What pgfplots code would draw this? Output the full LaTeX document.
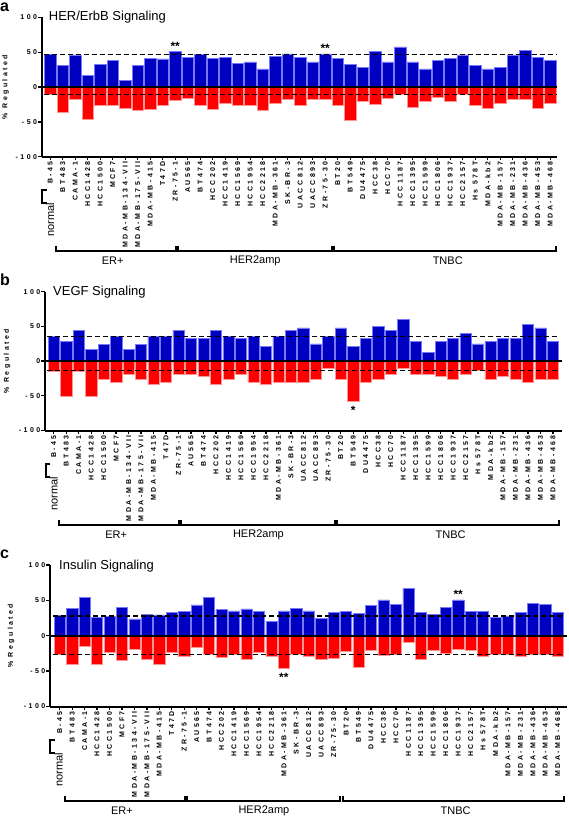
\documentclass[border=0pt]{standalone}
\usepackage{fontspec}
\setmainfont{Liberation Sans}
\newfontfamily\tickfont[LetterSpace=35]{Liberation Sans}
\usepackage{pgfplots}
\pgfplotsset{compat=1.18}
\usepackage{pgfplotstable}

\definecolor{barblue}{RGB}{0,0,192}
\definecolor{barblueedge}{RGB}{120,120,255}
\definecolor{barred}{RGB}{255,0,0}
\definecolor{barrededge}{RGB}{255,150,150}

\newcommand\ticklab{\tickfont\bfseries\fontsize{7}{8}\selectfont}
\newcommand\ylab{\tickfont\bfseries\fontsize{7}{8}\selectfont}
\newcommand\grouplab{\fontsize{11}{12}\selectfont}

% panel a: HER/ErbB
\pgfplotstableread{
i up dn
0 46.5 -11
1 31 -35.7
2 46 -18
3 17 -45.7
4 32 -26.7
5 38.5 -25.7
6 9.5 -31
7 31 -33
8 41 -31.4
9 40.5 -25.7
10 51 -19.5
11 43 -16
12 46.7 -25.7
13 41 -31.4
14 43 -23.3
15 34 -25.7
16 36 -25.7
17 26 -33
18 44 -24
19 47.6 -18
20 43 -25.7
21 36 -18
22 47.6 -18
23 41 -26
24 33 -47.6
25 28.6 -21
26 51 -24.8
27 36 -16
28 57.6 -10
29 36 -28.6
30 26 -21
31 38.6 -14.3
32 41 -21
33 46 -11
34 31 -25.7
35 26 -30.5
36 28.6 -23.3
37 46 -18
38 53 -18
39 43 -30.5
40 38.6 -23.3
}\dataA

% panel b: VEGF
\pgfplotstableread{
i up dn
0 36 -14
1 28.5 -50
2 44.4 -14
3 17 -50
4 24.6 -26
5 36 -30
6 17 -18.4
7 24.6 -26
8 36 -34
9 36 -30
10 44.4 -18.4
11 33 -18.4
12 33 -22
13 44.4 -34
14 36 -26
15 33 -18.4
16 36 -30
17 20.8 -34
18 36 -30
19 44.4 -30
20 48 -30
21 25 -26
22 36 -10
23 48 -26
24 20.8 -57.5
25 33 -30
26 50 -26
27 44.4 -18.4
28 60 -10
29 28.5 -18.4
30 12.6 -18.4
31 28.5 -22
32 33 -26
33 40 -18.4
34 25 -13.5
35 28.5 -26
36 33 -22
37 33 -26
38 52.6 -30
39 48 -26
40 28.5 -26
}\dataB

% panel c: Insulin
\pgfplotstableread{
i up dn
0 28.4 -26.5
1 39 -39.8
2 54 -15
3 25.6 -39.8
4 27 -23
5 40 -34
6 24 -19
7 30 -33
8 29.4 -39.8
9 32.7 -23
10 34.6 -28.4
11 43.6 -16
12 54 -25.6
13 37 -31
14 35 -25.6
15 38 -32.7
16 34.6 -23
17 20.8 -28.4
18 35 -46
19 38.4 -25.6
20 35 -29.4
21 25 -32.7
22 32.7 -31.7
23 34.6 -21.8
24 31.3 -44.5
25 43 -20.8
26 50.7 -28
27 44.5 -25.6
28 66.8 -9
29 33 -32.7
30 30.3 -20.4
31 40 -24.6
32 50.7 -19
33 34.6 -20.8
34 34.6 -28.4
35 26.5 -25.6
36 28 -25.6
37 33 -28.4
38 46 -25.6
39 44 -25.6
40 32.7 -28.4
}\dataC

\pgfplotsset{
  panel/.style={
    scale only axis, anchor=south west, clip=false,
    axis lines=left, axis line style={-, line width=2pt},
    ymin=-100, ymax=100,
    ytick={-100,-50,0,50,100}, yticklabels={-100,-50,0,50,100},
    xtick={0,...,40},
    xticklabels={B-45,BT483,CAMA-1,HCC1428,HCC1500,MCF7,MDA-MB-134-VII,MDA-MB-175-VII,MDA-MB-415,T47D,ZR-75-1,AU565,BT474,HCC202,HCC1419,HCC1569,HCC1954,HCC2218,MDA-MB-361,SK-BR-3,UACC812,UACC893,ZR-75-30,BT20,BT549,DU4475,HCC38,HCC70,HCC1187,HCC1395,HCC1599,HCC1806,HCC1937,HCC2157,Hs 578T,MDA-kb2,MDA-MB-157,MDA-MB-231,MDA-MB-436,MDA-MB-453,MDA-MB-468},
    tick align=outside, major tick length=3.5pt,
    tick style={black, line width=1.3pt},
    xticklabel style={rotate=90, anchor=east, font=\ticklab, inner sep=1pt},
    yticklabel style={font=\ticklab, inner sep=1pt},
    ylabel={\% Regulated},
  },
  upbar/.style={ybar, bar width=0.9, bar shift=0pt, fill=barblue, draw=barblueedge, line width=0.5pt},
  dnbar/.style={ybar, bar width=0.9, bar shift=0pt, fill=barred, draw=barrededge, line width=0.5pt},
  meanline/.style={black, line width=1.3pt, dash pattern=on 5pt off 3pt},
  zeroline/.style={black, line width=1.7pt},
}

\newcommand\groupmarks{%
  \draw[line width=2pt] ([xshift=5pt,yshift=-33pt]rel axis cs:0,0) -- ([xshift=0.5pt,yshift=-33pt]rel axis cs:0,0) -- ([xshift=0.5pt,yshift=-46pt]rel axis cs:0,0) -- ([xshift=5pt,yshift=-46pt]rel axis cs:0,0);
  \node[rotate=90, anchor=base east, font=\grouplab, inner sep=0pt] at ([xshift=12.5pt,yshift=-46pt]rel axis cs:0,0) {normal};
  \draw[line width=2pt] ([yshift=-89pt]axis cs:0.46,-100) -- ([yshift=-94pt]axis cs:0.46,-100) -- ([yshift=-94pt]axis cs:10.04,-100) -- ([yshift=-89pt]axis cs:10.04,-100);
  \draw[line width=2pt] ([yshift=-89pt]axis cs:10.22,-100) -- ([yshift=-94pt]axis cs:10.22,-100) -- ([yshift=-94pt]axis cs:22.53,-100) -- ([yshift=-89pt]axis cs:22.53,-100);
  \draw[line width=2pt] ([yshift=-89pt]axis cs:22.72,-100) -- ([yshift=-94pt]axis cs:22.72,-100) -- ([yshift=-94pt]axis cs:40.46,-100) -- ([yshift=-89pt]axis cs:40.46,-100);
  \node[font=\grouplab] at ([yshift=-104pt]axis cs:5.0,-100) {ER+};
  \node[font=\grouplab] at ([yshift=-104pt]axis cs:16.4,-100) {HER2amp};
  \node[font=\grouplab] at ([yshift=-104pt]axis cs:31.8,-100) {TNBC};
}

\begin{document}
\begin{tikzpicture}
\path[use as bounding box] (0pt,-816pt) rectangle (568pt,0pt);

\node[anchor=base west, font=\bfseries\fontsize{16}{16}\selectfont, inner sep=0pt] at (0pt,-11.5pt) {a};
\node[anchor=base west, font=\bfseries\fontsize{16}{16}\selectfont, inner sep=0pt] at (0pt,-285pt) {b};
\node[anchor=base west, font=\bfseries\fontsize{16}{16}\selectfont, inner sep=0pt] at (0pt,-558pt) {c};

% ---------- panel a
\begin{axis}[panel, at={(41.7pt,-156.7pt)}, width=515.3pt, height=139.4pt,
  xmin=-0.68, xmax=40.54,
  ylabel style={font=\ylab, at={([xshift=-36pt]axis description cs:0,0.5)}, anchor=center}]
\addplot[upbar] table[x=i,y=up]{\dataA};
\addplot[dnbar] table[x=i,y=dn]{\dataA};
\addplot[zeroline] coordinates {(-0.68,0) (40.54,0)};
\addplot[meanline] coordinates {(-0.5,46.7) (40.5,46.7)};
\addplot[meanline] coordinates {(-0.5,-11) (40.5,-11)};
\node[anchor=base west, font=\fontsize{13}{13}\selectfont, inner sep=0pt] at ([xshift=7pt,yshift=-3.5pt]rel axis cs:0,1) {HER/ErbB Signaling};
\node[anchor=base, font=\bfseries\fontsize{12}{12}\selectfont, inner sep=0pt] at ([yshift=1pt]axis cs:10,51) {**};
\node[anchor=base, font=\bfseries\fontsize{12}{12}\selectfont, inner sep=0pt] at ([yshift=1pt]axis cs:22,47.6) {**};
\groupmarks
\end{axis}

% ---------- panel b
\begin{axis}[panel, at={(45pt,-430.5pt)}, width=516.7pt, height=138.8pt,
  xmin=-0.7, xmax=40.7,
  ylabel style={font=\ylab, at={([xshift=-38pt]axis description cs:0,0.5)}, anchor=center}]
\addplot[upbar] table[x=i,y=up]{\dataB};
\addplot[dnbar] table[x=i,y=dn]{\dataB};
\addplot[zeroline] coordinates {(-0.7,0) (40.7,0)};
\addplot[meanline] coordinates {(-0.5,35.7) (40.5,35.7)};
\addplot[meanline] coordinates {(-0.5,-13.5) (40.5,-13.5)};
\node[anchor=base west, font=\fontsize{13}{13}\selectfont, inner sep=0pt] at ([xshift=8pt,yshift=-3.5pt]rel axis cs:0,1) {VEGF Signaling};
\node[anchor=base, font=\bfseries\fontsize{12}{12}\selectfont, inner sep=0pt] at ([yshift=-13pt]axis cs:24,-57.5) {*};
\groupmarks
\end{axis}

% ---------- panel c
\begin{axis}[panel, at={(50pt,-706.5pt)}, width=516.5pt, height=141.5pt,
  xmin=-0.78, xmax=40.7,
  ylabel style={font=\ylab, at={([xshift=-39pt]axis description cs:0,0.5)}, anchor=center}]
\addplot[upbar] table[x=i,y=up]{\dataC};
\addplot[dnbar] table[x=i,y=dn]{\dataC};
\addplot[zeroline] coordinates {(-0.78,0) (40.7,0)};
\addplot[meanline] coordinates {(-0.5,28) (40.5,28)};
\addplot[meanline] coordinates {(-0.5,-26.5) (40.5,-26.5)};
\node[anchor=base west, font=\fontsize{13}{13}\selectfont, inner sep=0pt] at ([xshift=9pt,yshift=-4.3pt]rel axis cs:0,1) {Insulin Signaling};
\node[anchor=base, font=\bfseries\fontsize{12}{12}\selectfont, inner sep=0pt] at ([yshift=-13pt]axis cs:18,-46) {**};
\node[anchor=base, font=\bfseries\fontsize{12}{12}\selectfont, inner sep=0pt] at ([yshift=1pt]axis cs:32,50.7) {**};
\groupmarks
\end{axis}
\end{tikzpicture}
\end{document}
